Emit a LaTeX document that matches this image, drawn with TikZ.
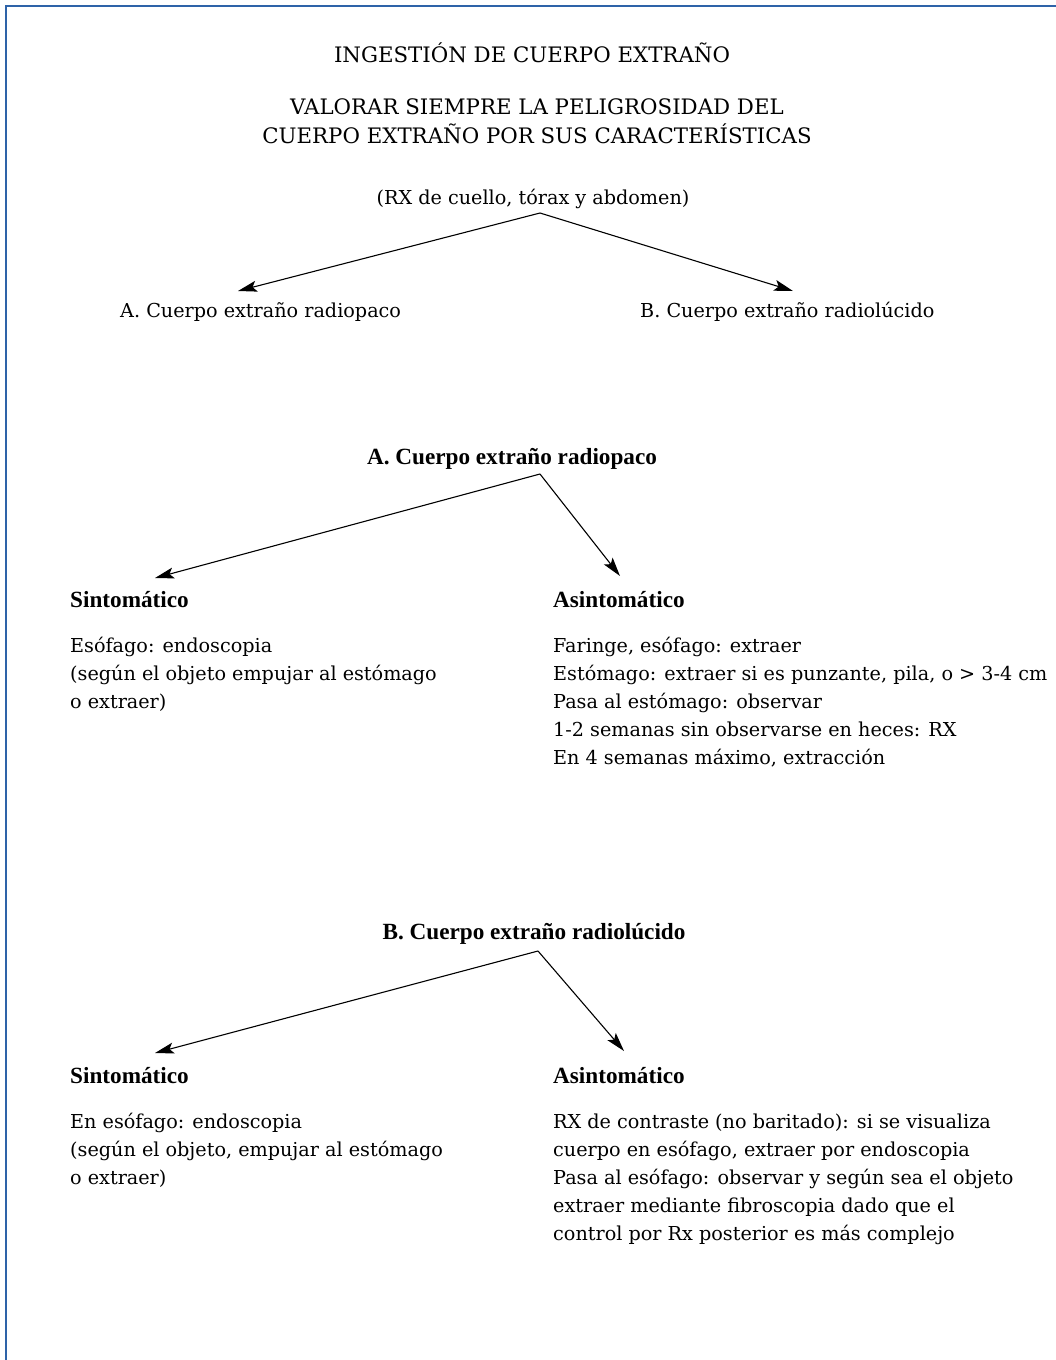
\documentclass[tikz,border=0pt]{standalone}
\usepackage{fontspec}
\setmainfont{DejaVu Serif}
\newfontfamily\headfont{Liberation Serif}
\usetikzlibrary{arrows.meta}
\definecolor{frameblue}{HTML}{2E63A8}
\tikzset{
  txt/.style={inner sep=0pt, font=\fontsize{19.2}{24}\selectfont},
  caps/.style={inner sep=0pt, font=\fontsize{21.3}{26}\selectfont},
  head/.style={inner sep=0pt, font=\fontsize{23.2}{28}\headfont\bfseries},
  branch/.style={draw, line width=1.1pt, -{Stealth[length=19pt,width=11pt,inset=4pt]}}
}
\begin{document}
\begin{tikzpicture}[x=1pt,y=-1pt]

        \useasboundingbox (0,0) rectangle (1056,1360);
        \draw[frameblue, line width=2pt] (5.5,1360) -- (5.5,5.5) -- (1056,5.5);

        % title block
        \begin{scope}[every node/.style={caps, anchor=base}]
          \node (title) at (532,62)  {INGESTIÓN DE CUERPO EXTRAÑO};
          \node (val1)  at (537,114) {VALORAR SIEMPRE LA PELIGROSIDAD DEL};
          \node (val2)  at (537,143) {CUERPO EXTRAÑO POR SUS CARACTERÍSTICAS};
        \end{scope}
        \node[txt, anchor=base] (rx) at (533,204) {(RX de cuello, tórax y abdomen)};

        \begin{scope}[every node/.style={txt, anchor=base west}]
          \node (opA) at (120,317) {A. Cuerpo extraño radiopaco};
          \node (opB) at (640,317) {B. Cuerpo extraño radiolúcido};
        \end{scope}

        \coordinate (rxfork) at (540,213);
        \coordinate (tipA)   at (238,291);
        \coordinate (tipB)   at (793,291);
        \path (rxfork) edge[branch] (tipA);
        \path (rxfork) edge[branch] (tipB);

        % A. radiopaco
        \node[head, anchor=base] (hdA) at (512,464) {A. Cuerpo extraño radiopaco};
        \coordinate (forkA) at (540,474);
        \coordinate (tipAs) at (155,578);
        \coordinate (tipAa) at (620,576);
        \path (forkA) edge[branch] (tipAs);
        \path (forkA) edge[branch] (tipAa);

        \begin{scope}[every node/.style={head, anchor=base west}]
          \node (symA)  at (70,607)  {Sintomático};
          \node (asymA) at (553,607) {Asintomático};
        \end{scope}

        \foreach \line [count=\i] in {Esófago: endoscopia,
            {(según el objeto empujar al estómago},
            o extraer)}
          \node[txt, anchor=base west] (symA-\i) at (70,{652+28*(\i-1)}) {\line};

        \foreach \line [count=\i] in {{Faringe, esófago: extraer},
            {Estómago: extraer si es punzante, pila, o > 3-4 cm},
            Pasa al estómago: observar,
            1-2 semanas sin observarse en heces: RX,
            {En 4 semanas máximo, extracción}}
          \node[txt, anchor=base west] (asymA-\i) at (553,{652+28*(\i-1)}) {\line};

        % B. radiolucido
        \node[head, anchor=base] (hdB) at (534,939) {B. Cuerpo extraño radiolúcido};
        \coordinate (forkB) at (538,951);
        \coordinate (tipBs) at (155,1053);
        \coordinate (tipBa) at (624,1051);
        \path (forkB) edge[branch] (tipBs);
        \path (forkB) edge[branch] (tipBa);

        \begin{scope}[every node/.style={head, anchor=base west}]
          \node (symB)  at (70,1083)  {Sintomático};
          \node (asymB) at (553,1083) {Asintomático};
        \end{scope}

        \foreach \line [count=\i] in {En esófago: endoscopia,
            {(según el objeto, empujar al estómago},
            o extraer)}
          \node[txt, anchor=base west] (symB-\i) at (70,{1128+28*(\i-1)}) {\line};

        \foreach \line [count=\i] in {RX de contraste (no baritado): si se visualiza,
            {cuerpo en esófago, extraer por endoscopia},
            Pasa al esófago: observar y según sea el objeto,
            extraer mediante fibroscopia dado que el,
            control por Rx posterior es más complejo}
          \node[txt, anchor=base west] (asymB-\i) at (553,{1128+28*(\i-1)}) {\line};

      \end{tikzpicture}
\end{document}
